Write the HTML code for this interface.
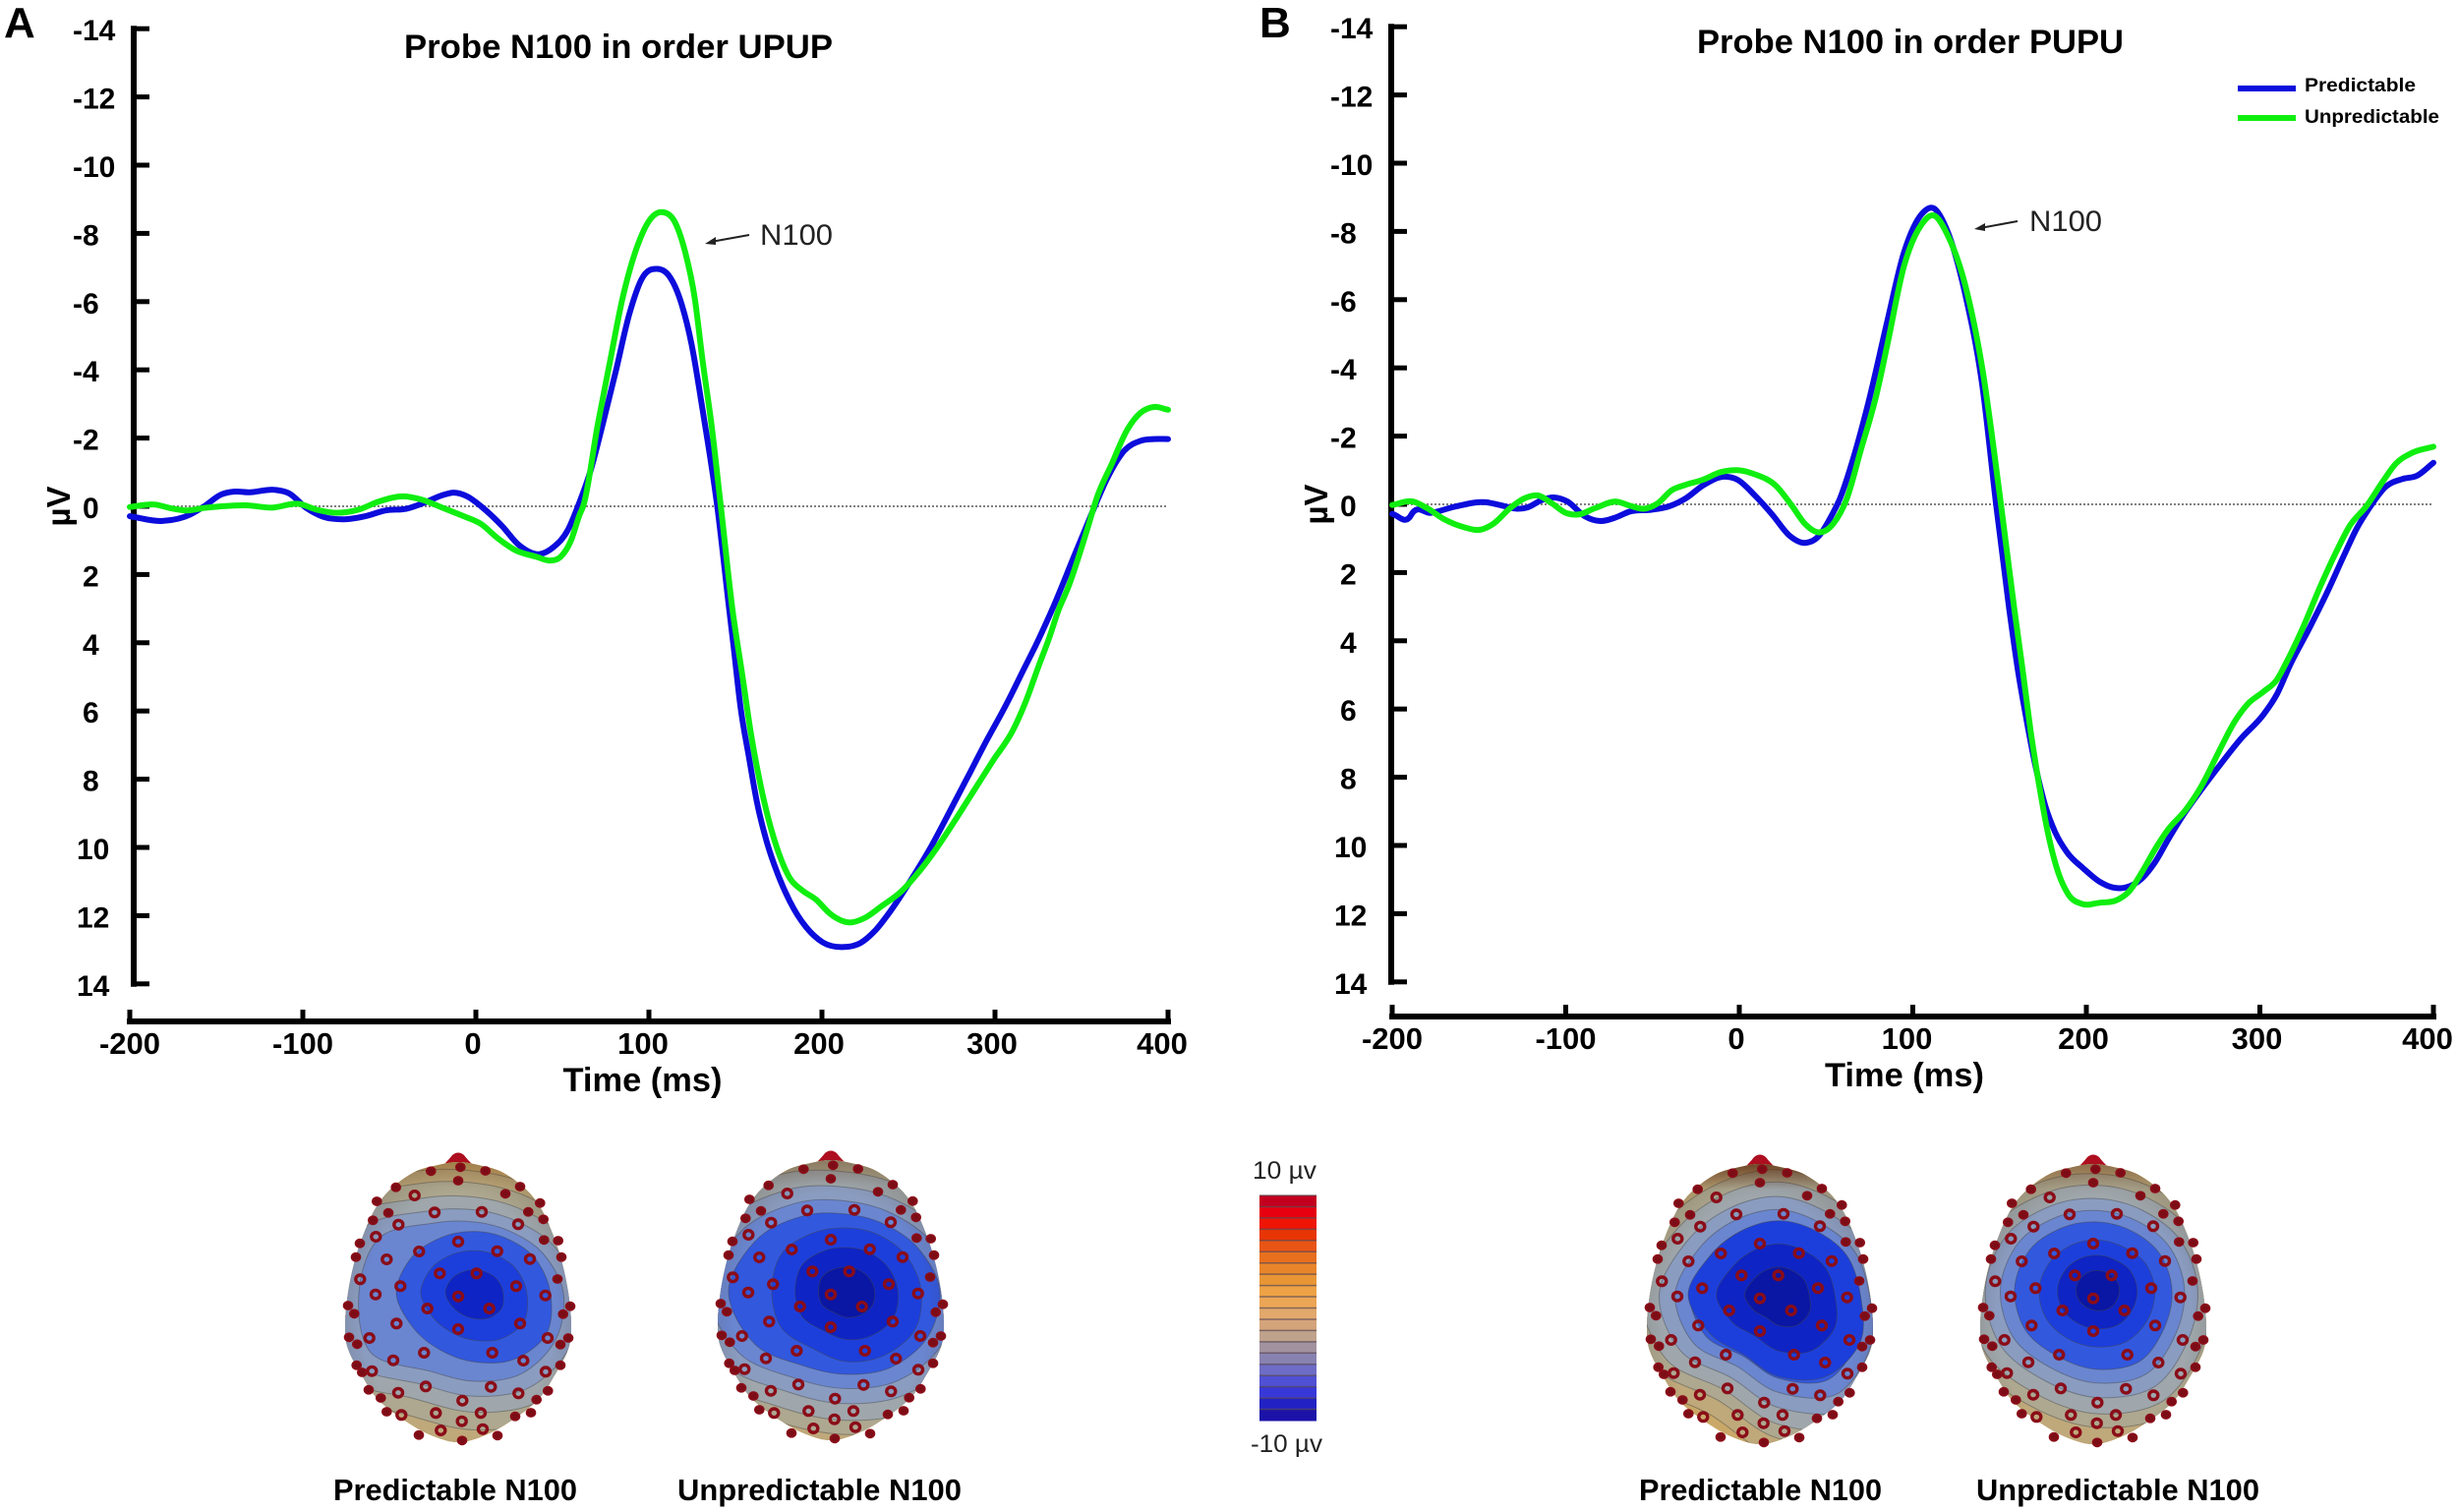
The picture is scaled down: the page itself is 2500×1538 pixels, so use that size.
<!DOCTYPE html>
<html lang="en">
<head>
<meta charset="utf-8">
<title>Probe N100 ERP waveforms and topographies</title>
<style>
html,body{margin:0;padding:0;background:#fff;}
svg{display:block;font-family:"Liberation Sans",sans-serif;}
</style>
</head>
<body>
<svg id="figure" xmlns="http://www.w3.org/2000/svg" width="2500" height="1538" viewBox="0 0 2500 1538">
  <rect x="0" y="0" width="2500" height="1538" fill="#fff"/>
  <text x="4" y="38" font-size="44" font-weight="700">A</text>
  <text x="1281" y="38" font-size="44" font-weight="700">B</text>
  <text x="411" y="59" font-size="34" font-weight="700" textLength="436" lengthAdjust="spacingAndGlyphs">Probe N100 in order UPUP</text>
  <text x="1726" y="54" font-size="34" font-weight="700" textLength="434" lengthAdjust="spacingAndGlyphs">Probe N100 in order PUPU</text>
  <g>
    <line x1="2276" y1="90" x2="2335" y2="90" stroke="#0c0cdc" stroke-width="6"/>
    <text x="2344" y="93" font-size="19" font-weight="700" textLength="113" lengthAdjust="spacingAndGlyphs">Predictable</text>
    <line x1="2276" y1="120" x2="2335" y2="120" stroke="#10ee10" stroke-width="6"/>
    <text x="2344" y="125" font-size="19" font-weight="700" textLength="137" lengthAdjust="spacingAndGlyphs">Unpredictable</text>
  </g>
  <g>
    <line x1="762" y1="239" x2="723" y2="246" stroke="#222" stroke-width="2"/>
    <path d="M717 248 L728 241 L728 249 Z" fill="#222"/>
    <text x="773" y="249" font-size="30" fill="#222" textLength="74" lengthAdjust="spacingAndGlyphs">N100</text>
  </g>
  <g>
    <line x1="2052" y1="225" x2="2014" y2="232" stroke="#222" stroke-width="2"/>
    <path d="M2008 233 L2019 227 L2019 235 Z" fill="#222"/>
    <text x="2064" y="235" font-size="30" fill="#222" textLength="74" lengthAdjust="spacingAndGlyphs">N100</text>
  </g>
  <text x="339" y="1526" font-size="31" font-weight="700" textLength="248" lengthAdjust="spacingAndGlyphs">Predictable N100</text>
  <text x="689" y="1526" font-size="31" font-weight="700" textLength="289" lengthAdjust="spacingAndGlyphs">Unpredictable N100</text>
  <text x="1667" y="1526" font-size="31" font-weight="700" textLength="247" lengthAdjust="spacingAndGlyphs">Predictable N100</text>
  <text x="2010" y="1526" font-size="31" font-weight="700" textLength="288" lengthAdjust="spacingAndGlyphs">Unpredictable N100</text>
  <text x="1274" y="1199" font-size="25" fill="#222" textLength="65" lengthAdjust="spacingAndGlyphs">10 µv</text>
  <text x="1272" y="1477" font-size="25" fill="#222" textLength="73" lengthAdjust="spacingAndGlyphs">-10 µv</text>
</svg>
<script>
/* ---------- chart data ---------- */
const xTickLabels = [-200, -100, 0, 100, 200, 300, 400];
const yTickLabels = [-14, -12, -10, -8, -6, -4, -2, 0, 2, 4, 6, 8, 10, 12, 14];

const timeAPredictable = [-200,-181,-165,-157,-147,-140,-131,-116,-108,-98,-88,-76,-64,-52,-40,-30,-19,-13,-5,3,15,25,37,45,53,59,66,73.5,81,88.6,96,104.7,111.4,119,124.6,131,139.5,146.4,149.3,153,157.8,162.5,168.2,173.9,181.4,190.9,200.4,212.7,222.2,230.7,240.2,251.5,262.9,274.3,285.6,295.1,306.5,315.9,323.5,333,346.3,355.7,365.2,374.7,384.1,391.7,400];
const valuesAPredictable = [0.29,0.43,0.24,0,-0.35,-0.43,-0.41,-0.48,-0.38,0.05,0.31,0.38,0.29,0.12,0.07,-0.1,-0.33,-0.4,-0.29,0,0.57,1.14,1.4,1.19,0.71,0,-1,-2.45,-3.99,-5.62,-6.68,-6.96,-6.77,-5.91,-4.76,-2.83,0,3.03,4.28,5.91,7.35,8.69,9.85,10.71,11.58,12.34,12.78,12.92,12.8,12.44,11.82,10.95,9.99,8.9,7.8,6.87,5.81,4.85,4.08,3.03,1.39,0.24,-0.86,-1.63,-1.92,-1.97,-1.97];

const timeAUnpredictable = [-200,-185,-177,-167,-157,-147,-133,-118,-102,-92,-80,-68,-56,-42,-31,-19,-7,3,13,23,35,43,49,55,60,62,70.6,77.3,84.8,93.4,100,108,115.2,121,126.5,131,136,142,148.3,154,158.7,163.5,169.1,174.8,181.4,188.1,196.6,205.1,215.5,225,234.5,245.8,255.3,264.8,276.1,287.5,298.9,310.2,317.8,325.4,331.1,336.8,342.5,351.9,359.5,367.1,376.6,384.1,391.7,400];
const valuesAUnpredictable = [0.02,-0.05,0.05,0.12,0.05,0,-0.03,0.04,-0.07,0.1,0.19,0.1,-0.14,-0.29,-0.19,0.05,0.29,0.52,0.95,1.29,1.48,1.59,1.48,1,0.24,0,-2.45,-4.18,-6.1,-7.64,-8.36,-8.62,-8.31,-7.44,-6.1,-4.27,-2.45,0.2,3.03,4.95,6.58,7.92,9.17,10.13,10.9,11.24,11.53,11.96,12.2,12.06,11.72,11.29,10.76,10.13,9.27,8.36,7.45,6.58,5.72,4.66,3.89,3.03,2.35,0.91,-0.34,-1.2,-2.26,-2.74,-2.91,-2.83];

const timeBPredictable = [-200,-190,-188,-178,-164,-146,-138,-128,-122,-114,-106,-99,-89,-80,-71,-63,-51,-41,-31,-21,-9,-1,9,19,29,38,46,52,58,66,74,85,95,105,112,120,130,140,148,155.6,160.4,166,170.8,176.4,182.1,188.7,198.2,207.6,215.2,222.7,232.2,239.7,247.3,256.7,266.2,277.6,288.9,302.1,309.7,317.3,328.2,338.6,348,355.6,363.2,372.6,382,390.5,400];
const valuesBPredictable = [0.28,0.38,0.23,0.25,0.07,-0.06,0.02,0.13,0.09,-0.12,-0.2,-0.08,0.35,0.49,0.38,0.21,0.16,0.07,-0.17,-0.55,-0.81,-0.72,-0.26,0.3,0.92,1.13,0.92,0.44,-0.17,-1.4,-2.9,-5.3,-7.4,-8.5,-8.68,-8,-6.2,-3.5,0,3.08,4.81,6.45,7.7,8.85,9.62,10.19,10.67,11.06,11.23,11.23,10.96,10.48,9.81,9.04,8.37,7.6,6.88,6.16,5.58,4.72,3.66,2.6,1.55,0.73,0.1,-0.52,-0.74,-0.84,-1.22];

const timeBUnpredictable = [-200,-188,-180,-170,-158,-150,-142,-132,-124,-116,-108,-100,-93,-83,-71,-63,-55,-47,-39,-31,-21,-11,-1,9,21,30,38,46,54,62,70,79,85,95,105,112,120,130,140,150,158.5,163.2,167.9,172.6,177.4,183,189.7,197.2,207.6,218,224.6,232.2,239.7,247.3,256.7,266.2,277.6,285.1,292.7,302.1,309.7,315.4,324.4,334.8,344.3,351.8,361.3,370.7,378.3,387.7,400];
const valuesBUnpredictable = [0.02,-0.08,0.11,0.44,0.68,0.75,0.58,0.11,-0.17,-0.26,-0.03,0.25,0.3,0.11,-0.08,0.04,0.13,-0.03,-0.41,-0.57,-0.72,-0.94,-1,-0.88,-0.55,0.02,0.58,0.82,0.58,-0.17,-1.58,-3.2,-4.6,-7,-8.2,-8.47,-7.9,-6.46,-4,-0.3,3.08,4.81,6.64,8.17,9.52,10.67,11.44,11.71,11.68,11.59,11.35,10.77,10.1,9.52,8.99,8.27,7.12,6.4,5.87,5.49,5.15,4.62,3.66,2.41,1.36,0.63,0.06,-0.66,-1.19,-1.51,-1.69];

const colorbarBands = ['#c4001f','#e6000f','#ee1505','#e83505','#e85515','#e86f1e','#e8852a','#e89535','#eea245','#eca655','#e2a86c','#d4a47a','#bfa28c','#a292a0','#8882b0','#6e6cc6','#5050d4','#3838d8','#2222c4','#1c12a8'];

/* ---------- illustration geometry ---------- */
const headLevels = ['#0a16a4','#0e24c4','#1c3fdc','#3258de','#6a86d0','#8a9cc0','#9fa7ac','#aea890','#bfa97b','#caa868','#d1a860','#d2a65a','#c8a055','#c8a055'];
const bandScales = [0.3,0.55,0.8,1,1.17,1.35,1.55,1.72,1.95,2.2,2.5,2.9];
const headShape = [[0,0],[20,3],[44,10],[68,27],[84,47],[96,73],[105,100],[112,133],[115,167],[112,190],[98,217],[80,243],[48,267],[22,280],[0,285]];
const electrodes = [[378,293],[259,323],[497,322],[322,390],[434,390],[202,429],[555,429],[378,460],[284,497],[473,497],[190,543],[567,543],[378,560],[160,347],[597,346],[126,454],[644,457],[107,587],[651,587],[274,632],[482,632],[180,655],[577,656],[279,735],[478,736],[195,754],[562,756],[391,778],[310,816],[447,816],[389,841],[325,869],[453,865],[378,107],[245,152],[522,147],[306,204],[450,202],[196,241],[561,240],[127,278],[640,288],[165,205],[592,202],[188,127],[567,125],[295,78],[385,66],[461,77],[79,408],[681,407],[61,513],[698,514],[45,585],[714,587],[70,606],[690,607],[115,688],[645,690],[205,822],[552,826],[160,812],[142,770],[617,775],[258,883],[390,900],[498,885],[105,745],[652,748],[68,670],[690,670],[85,692],[66,340],[693,340],[118,228],[638,225],[42,488],[720,490],[78,298],[683,290],[130,170],[628,175],[600,815]];
const heads = [
  {id:'a-predictable',   cx:466,  top:1182, core:[17,133], start:1, topDark:0.2,
   inner:[96,105,98,88,85,90,100,92,82,78,80,88], outer:[90,95,95,90,92,122,118,112,82,72,72,80]},
  {id:'a-unpredictable', cx:845,  top:1180, core:[16,133], start:0, topDark:0.25,
   inner:[95,100,95,90,85,95,95,95,85,80,82,88], outer:[95,95,90,85,88,108,120,105,88,78,78,85]},
  {id:'b-predictable',   cx:1790, top:1184, core:[19,133], start:0, topDark:0.75,
   inner:[104,120,120,104,88,100,115,100,94,94,94,100], outer:[79,92,100,85,72,85,90,80,75,74,72,76]},
  {id:'b-unpredictable', cx:2129, top:1184, core:[5,127],  start:0, topDark:0.35,
   inner:[72,74,76,74,74,76,75,70,65,62,62,68], outer:[75,78,85,82,80,85,85,80,72,68,68,72]}
];

/* ---------- helpers ---------- */
const svg = document.getElementById('figure');
const NS = 'http://www.w3.org/2000/svg';
function mk(tag, attrs, parent) {
  const el = document.createElementNS(NS, tag);
  for (const k in attrs) el.setAttribute(k, attrs[k]);
  (parent || svg).appendChild(el);
  return el;
}
/* cubic Hermite through points with x strictly increasing; tangents account for uneven spacing */
function smoothSeries(pts) {
  const n = pts.length;
  const slope = function (i) {
    if (i === 0) return (pts[1][1] - pts[0][1]) / (pts[1][0] - pts[0][0]);
    if (i === n - 1) return (pts[n - 1][1] - pts[n - 2][1]) / (pts[n - 1][0] - pts[n - 2][0]);
    const h0 = pts[i][0] - pts[i - 1][0], h1 = pts[i + 1][0] - pts[i][0];
    const s0 = (pts[i][1] - pts[i - 1][1]) / h0, s1 = (pts[i + 1][1] - pts[i][1]) / h1;
    return (s0 * h1 + s1 * h0) / (h0 + h1);
  };
  let d = 'M' + pts[0][0].toFixed(1) + ' ' + pts[0][1].toFixed(1);
  for (let i = 0; i < n - 1; i++) {
    const h = pts[i + 1][0] - pts[i][0];
    d += ' C' + (pts[i][0] + h / 3).toFixed(1) + ' ' + (pts[i][1] + slope(i) * h / 3).toFixed(1) + ' ' +
         (pts[i + 1][0] - h / 3).toFixed(1) + ' ' + (pts[i + 1][1] - slope(i + 1) * h / 3).toFixed(1) + ' ' +
         pts[i + 1][0].toFixed(1) + ' ' + pts[i + 1][1].toFixed(1);
  }
  return d;
}
function smoothClosed(pts) {
  const n = pts.length;
  let d = 'M' + pts[0][0].toFixed(1) + ' ' + pts[0][1].toFixed(1);
  for (let i = 0; i < n; i++) {
    const p0 = pts[(i - 1 + n) % n], p1 = pts[i], p2 = pts[(i + 1) % n], p3 = pts[(i + 2) % n];
    d += ' C' + (p1[0] + (p2[0] - p0[0]) / 6).toFixed(1) + ' ' + (p1[1] + (p2[1] - p0[1]) / 6).toFixed(1) + ' ' +
         (p2[0] - (p3[0] - p1[0]) / 6).toFixed(1) + ' ' + (p2[1] - (p3[1] - p1[1]) / 6).toFixed(1) + ' ' +
         p2[0].toFixed(1) + ' ' + p2[1].toFixed(1);
  }
  return d + ' Z';
}

/* ---------- ERP panels ---------- */
function drawPanel(p) {
  const xScale = function (t) { return p.x0 + (t - (-200)) / 600 * (p.x1 - p.x0); };
  const yScale = function (v) { return p.zero + v * p.unit; };
  const xLabelNudge = function (t) {
    if (t === 100) return -6;
    if (t === 0 || t === 200) return -3;
    if (t === 300) return -3;
    if (t === 400) return -6;
    return 0;
  };
  const g = mk('g', {});
  
  

  const zeroLine = mk('line', {x1: p.axisX, y1: yScale(0), x2: p.x1, y2: yScale(0), stroke: '#808080', 'stroke-width': 2, 'stroke-dasharray': '2 2'}, g);
  
  

  const yAxis = mk('line', {x1: p.axisX, y1: yScale(-14) - 3, x2: p.axisX, y2: yScale(14) + 3, stroke: '#000', 'stroke-width': 6}, g);
  
  
  yTickLabels.forEach(function (v) {
    const tick = mk('line', {x1: p.axisX, y1: yScale(v), x2: p.axisX + 16, y2: yScale(v), stroke: '#000', 'stroke-width': 5}, g);
    
    
    const lx = v < 0 ? p.axisX - 62 : (v >= 10 ? p.axisX - 58 : p.axisX - 52);
    const label = mk('text', {x: lx, y: yScale(v) + 12, 'font-size': 30, 'font-weight': 700}, g);
    label.textContent = String(v);
    
    
  });

  const xAxis = mk('line', {x1: p.x0 - 3, y1: p.axisY, x2: p.x1 + 3, y2: p.axisY, stroke: '#000', 'stroke-width': 6}, g);
  
  
  xTickLabels.forEach(function (t) {
    const tick = mk('line', {x1: xScale(t), y1: p.axisY, x2: xScale(t), y2: p.axisY - 12, stroke: '#000', 'stroke-width': 5}, g);
    
    
    const label = mk('text', {x: xScale(t) + xLabelNudge(t), y: p.axisY + 33, 'font-size': 31, 'font-weight': 700, 'text-anchor': 'middle'}, g);
    label.textContent = String(t);
    
    
  });

  const xTitle = mk('text', {x: p.titleX, y: p.axisY + 71, 'font-size': 34, 'font-weight': 700, 'text-anchor': 'middle', textLength: 162, lengthAdjust: 'spacingAndGlyphs'}, g);
  xTitle.textContent = 'Time (ms)';
  
  
  const yTitle = mk('text', {transform: 'translate(' + (p.axisX - 65) + ' ' + p.zero + ') rotate(-90)', 'font-size': 33, 'font-weight': 700, 'text-anchor': 'middle'}, g);
  yTitle.textContent = 'µV';
  
  

  p.series.forEach(function (s) {
    const pts = s.t.map(function (t, i) { return [xScale(t), yScale(s.v[i])]; });
    const line = mk('path', {d: smoothSeries(pts), fill: 'none', stroke: s.color, 'stroke-width': 6, 'stroke-linecap': 'round', 'stroke-linejoin': 'round'}, g);
    
    
  });
}

drawPanel({id: 'a', x0: 132, x1: 1188, axisX: 136, axisY: 1039, zero: 515, unit: 34.7, titleX: 653.5,
  series: [
    {name: 'line-predictable-a', color: '#0c0cdc', t: timeAPredictable, v: valuesAPredictable},
    {name: 'line-unpredictable-a', color: '#10ee10', t: timeAUnpredictable, v: valuesAUnpredictable}
  ]});
drawPanel({id: 'b', x0: 1416, x1: 2475, axisX: 1415, axisY: 1034, zero: 513, unit: 34.7, titleX: 1937,
  series: [
    {name: 'line-predictable-b', color: '#0c0cdc', t: timeBPredictable, v: valuesBPredictable},
    {name: 'line-unpredictable-b', color: '#10ee10', t: timeBUnpredictable, v: valuesBUnpredictable}
  ]});

/* ---------- colour bar ---------- */
(function () {
  const x = 1281, y = 1216, w = 58, h = 229, bandH = h / colorbarBands.length;
  const g = mk('g', {});
  
  
  colorbarBands.forEach(function (c, i) {
    const r = mk('rect', {x: x, y: y + i * bandH, width: w, height: bandH + 0.5, fill: c}, g);
    
    
    const sep = mk('line', {x1: x, y1: y + i * bandH, x2: x + w, y2: y + i * bandH, stroke: '#5a4a55', 'stroke-width': 1.5, opacity: 0.7}, g);
    
    
  });
})();

/* ---------- topographic heads ---------- */
const defs = mk('defs', {});
const shade = mk('radialGradient', {id: 'head-shade', cx: '0.5', cy: '0.55', r: '0.6'}, defs);
mk('stop', {offset: '0.72', 'stop-color': '#50402a', 'stop-opacity': 0}, shade);
mk('stop', {offset: '1', 'stop-color': '#50402a', 'stop-opacity': 0.28}, shade);

heads.forEach(function (h) {
  const right = headShape.map(function (p) { return [p[0], p[1]]; });
  const left = headShape.slice(1, -1).reverse().map(function (p) { return [-p[0], p[1]]; });
  const outline = smoothClosed(right.concat(left));
  const g = mk('g', {transform: 'translate(' + h.cx + ' ' + h.top + ')'});
  
  

  const clip = mk('clipPath', {id: 'clip-' + h.id}, defs);
  mk('path', {d: outline}, clip);
  const topShade = mk('linearGradient', {id: 'head-top-' + h.id, x1: '0', y1: '0', x2: '0', y2: '1'}, defs);
  mk('stop', {offset: '0', 'stop-color': '#5a2a10', 'stop-opacity': h.topDark}, topShade);
  mk('stop', {offset: '0.09', 'stop-color': '#5a2a10', 'stop-opacity': 0}, topShade);

  const nose = mk('path', {d: 'M-14 2 Q-9 -3 -6 -7 Q0 -12 6 -7 Q9 -3 14 2 Z', fill: '#ad0f20'}, g);
  
  
  const base = mk('path', {d: outline, fill: '#cfa55c'}, g);
  
  

  const bands = mk('g', {'clip-path': 'url(#clip-' + h.id + ')'}, g);
  
  
  for (let i = bandScales.length - 1; i >= 0; i--) {
    const k = bandScales[i];
    const w = Math.max(0, Math.min(1, (k - 0.8) / 0.2));
    const pts = h.inner.map(function (r, j) {
      const a = j * Math.PI / 6;
      const rad = (r + (h.outer[j] - r) * w) * k;
      return [h.core[0] + rad * Math.cos(a), h.core[1] + rad * Math.sin(a)];
    });
    const c = headLevels[Math.min(headLevels.length - 1, i + h.start)];
    const band = mk('path', {d: smoothClosed(pts), fill: c, stroke: '#444', 'stroke-opacity': 0.45, 'stroke-width': 1}, bands);
    
    
  }
  const s1 = mk('path', {d: outline, fill: 'url(#head-shade)'}, g);
  
  
  const s2 = mk('path', {d: outline, fill: 'url(#head-top-' + h.id + ')'}, g);
  
  

  electrodes.forEach(function (e) {
    const ex = (e[0] - 378) / 3, ey = (e[1] - 50) / 3;
    const edge = Math.pow(ex / 115, 2) + Math.pow((ey - 150) / 145, 2) > 0.8;
    const dot = mk('ellipse', {cx: ex.toFixed(1), cy: ey.toFixed(1), rx: edge ? 4.4 : 4.5, ry: edge ? 4 : 4.3, fill: edge ? '#7c0d16' : 'none', stroke: '#8a0d18', 'stroke-width': edge ? 1.8 : 3.4}, g);
    
    
  });
});
</script>
</body>
</html>
